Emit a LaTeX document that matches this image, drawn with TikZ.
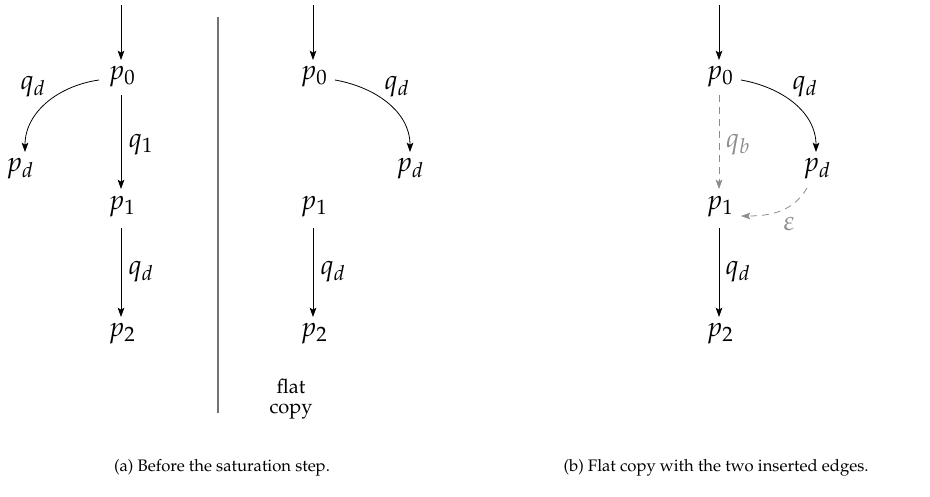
\documentclass[tikz,border=0pt]{standalone}
\usepackage[T1]{fontenc}
\usepackage{mathpazo}
\usetikzlibrary{arrows.meta}
\begin{document}
\begin{tikzpicture}[x=0.75pt,y=-0.75pt,
  st/.style={inner sep=0pt, font=\fontsize{20.5}{24}\selectfont},
  lbl/.style={inner sep=0pt, font=\fontsize{20.5}{24}\selectfont},
  edge/.style={-{Stealth[length=7pt,width=5pt,inset=1.5pt]}, line width=0.6pt},
  ins/.style={-{Stealth[length=7pt,width=5pt,inset=1.5pt]}, line width=0.6pt, draw=black!45, dash pattern=on 5pt off 4pt},
  insl/.style={inner sep=0pt, font=\fontsize{20.5}{24}\selectfont, text=black!45},
  sep/.style={draw=black!55, line width=1.1pt},
  captxt/.style={inner sep=0pt, font=\fontsize{12.5}{15}\selectfont}]
\useasboundingbox (0,0) rectangle (930,496);
% ---------- panel (a) ----------
\coordinate (a0i) at (121,5);
\node[st] (a0) at (122,77) {$p_0$};
\node[st] (ad) at (20,169) {$p_d$};
\node[st] (a1) at (122,207) {$p_1$};
\node[st] (a2) at (122,334) {$p_2$};
\draw[edge] (a0i) -- (121,60);
\draw[edge] (99,80) to[out=188,in=90] (25,152);
\draw[edge] (121,95) -- (121,189);
\draw[edge] (121,228) -- (121,317);
\node[lbl] (aql) at (33,87) {$q_d$};
\node[lbl] (aq1) at (141,145) {$q_1$};
\node[lbl] (aqd) at (141,272) {$q_d$};
% separator
\draw[sep] (218,17) -- (218,413);
% ---------- middle ----------
\coordinate (m0i) at (313,5);
\node[st] (m0) at (314,77) {$p_0$};
\node[st] (md) at (410,169) {$p_d$};
\node[st] (m1) at (314,207) {$p_1$};
\node[st] (m2) at (314,334) {$p_2$};
\draw[edge] (m0i) -- (313,60);
\draw[edge] (335,80) to[out=-10,in=90] (410,152);
\draw[edge] (313,228) -- (313,317);
\node[lbl] (mql) at (397,87) {$q_d$};
\node[lbl] (mqd) at (333,272) {$q_d$};
\node[captxt, font=\fontsize{15}{15.5}\selectfont, align=center] (fc) at (291,399) {flat\\copy};
% ---------- panel (b) ----------
\coordinate (b0i) at (719,5);
\node[st] (b0) at (720,77) {$p_0$};
\node[st] (bd) at (817,169) {$p_d$};
\node[st] (b1) at (720,207) {$p_1$};
\node[st] (b2) at (720,334) {$p_2$};
\draw[edge] (b0i) -- (719,60);
\draw[edge] (741,80) to[out=-10,in=90] (816,152);
\draw[edge] (719,228) -- (719,317);
\draw[ins] (719,95) -- (719,189);
\draw[ins] (807,188) to[out=240,in=0] (741,216);
\node[lbl] (bqd) at (805,87) {$q_d$};
\node[insl] (bqb) at (738,145) {$q_b$};
\node[insl] (beps) at (789,224) {$\varepsilon$};
\node[lbl] (bq2) at (738,272) {$q_d$};
% captions
\node[captxt] (capa) at (222,468) {(a) Before the saturation step.};
\node[captxt] (capb) at (716,468) {(b) Flat copy with the two inserted edges.};
\end{tikzpicture}
\end{document}
